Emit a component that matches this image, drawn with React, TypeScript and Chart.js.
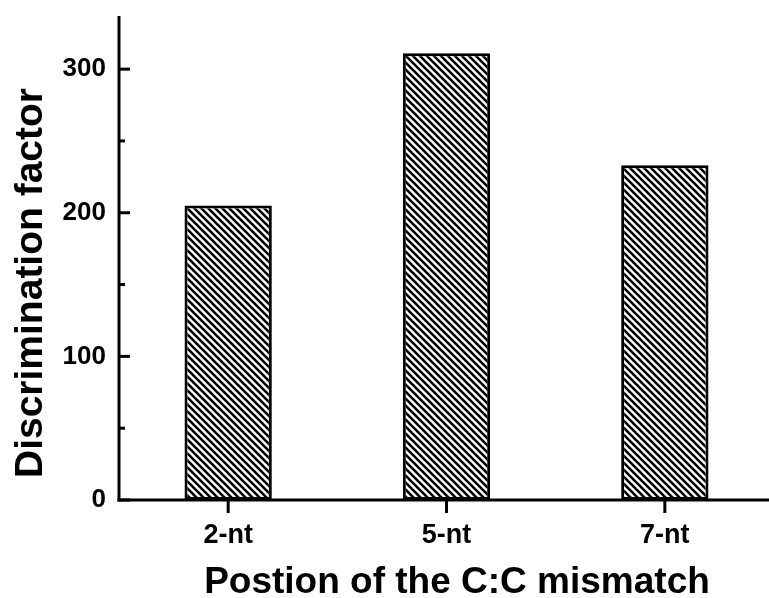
import React, { useEffect, useRef } from 'react';
import { Chart, registerables } from 'chart.js';

Chart.register(...registerables);

// ---- data ----
const categories = ['2-nt', '5-nt', '7-nt'];
const discriminationFactor = [205, 311, 233];
const yTickLabels = ['0', '100', '200', '300'];
const yMin = 0;
const yMax = 337;
const yMinorStep = 50;
const xTitle = 'Postion of the C:C mismatch';
const yTitle = 'Discrimination factor';

const FONT = '"Liberation Sans", Arial, sans-serif';

function makeHatch(): CanvasPattern | string {
  const size = 7;
  const c = document.createElement('canvas');
  c.width = size;
  c.height = size;
  const g = c.getContext('2d');
  if (!g) return '#fff';
  g.fillStyle = '#fff';
  g.fillRect(0, 0, size, size);
  g.strokeStyle = '#000';
  g.lineWidth = 2.6;
  for (const k of [-size, 0, size]) {
    g.beginPath();
    g.moveTo(k - 1, -1);
    g.lineTo(k + size + 1, size + 1);
    g.stroke();
  }
  const p = g.createPattern(c, 'repeat');
  return p || '#fff';
}

const axesPlugin = {
  id: 'originAxes',
  afterDatasetsDraw(chart: any) {
    const { ctx, chartArea } = chart;
    const x = chart.scales.x;
    const y = chart.scales.y;
    const { left, right, top, bottom } = chartArea;
    ctx.save();
    ctx.strokeStyle = '#000';
    ctx.lineWidth = 3;
    ctx.lineCap = 'butt';
    const line = (x1: number, y1: number, x2: number, y2: number) => {
      ctx.beginPath();
      ctx.moveTo(x1, y1);
      ctx.lineTo(x2, y2);
      ctx.stroke();
    };
    line(left, top, left, bottom + 1.5);
    line(left - 1.5, bottom, right, bottom);
    y.ticks.forEach((t: any) => {
      const py = y.getPixelForValue(t.value);
      const major = yTickLabels.includes(String(t.value));
      line(left, py, left + (major ? 11 : 6), py);
    });
    x.ticks.forEach((_t: any, i: number) => {
      const px = x.getPixelForTick(i);
      line(px, bottom, px, bottom + 13);
    });
    // axis titles
    ctx.fillStyle = '#000';
    ctx.font = `bold 39px ${FONT}`;
    ctx.textAlign = 'center';
    ctx.textBaseline = 'alphabetic';
    ctx.save();
    ctx.translate(42, 283);
    ctx.rotate(-Math.PI / 2);
    ctx.fillText(yTitle, 0, 0);
    ctx.restore();
    ctx.font = `bold 37px ${FONT}`;
    ctx.fillText(xTitle, 457, 593);
    ctx.restore();
  },
};

export default function App() {
  const ref = useRef<HTMLCanvasElement | null>(null);

  useEffect(() => {
    if (!ref.current) return;
    const hatch = makeHatch();
    const chart = new Chart(ref.current, {
      type: 'bar',
      data: {
        labels: categories,
        datasets: [
          {
            label: yTitle,
            data: discriminationFactor,
            backgroundColor: hatch as any,
            borderColor: '#000',
            borderWidth: 3,
            borderSkipped: false,
            barPercentage: 0.4,
            categoryPercentage: 1,
          },
        ],
      },
      options: {
        animation: false,
        responsive: false,
        devicePixelRatio: 1,
        layout: { padding: { top: 16, right: 6, bottom: 0, left: 0 } },
        plugins: { legend: { display: false }, tooltip: { enabled: false } },
        scales: {
          x: {
            grid: { display: false, drawTicks: false },
            border: { display: false },
            ticks: {
              color: '#000',
              font: { family: FONT, size: 27, weight: 'bold' },
              padding: 19,
            },
            afterFit: (s: any) => {
              s.height = 98;
              s.paddingLeft = 0;
              s.paddingRight = 0;
            },
          },
          y: {
            min: yMin,
            max: yMax,
            grid: { display: false, drawTicks: false },
            border: { display: false },
            ticks: {
              stepSize: yMinorStep,
              includeBounds: false,
              color: '#000',
              font: { family: FONT, size: 26, weight: 'bold' },
              padding: 13,
              callback: (v: any) => (yTickLabels.includes(String(v)) ? String(v) : ''),
            },
            afterFit: (s: any) => {
              s.width = 119;
              s.paddingTop = 0;
              s.paddingBottom = 0;
            },
          },
        },
      },
      plugins: [axesPlugin],
    });
    return () => chart.destroy();
  }, []);

  return (
    <div
      style={{
        position: 'fixed',
        left: 0,
        top: 0,
        width: 769,
        height: 598,
        overflow: 'hidden',
        background: '#fff',
      }}
    >
      <canvas ref={ref} width={780} height={598} style={{ width: 780, height: 598, display: 'block' }} />
    </div>
  );
}
